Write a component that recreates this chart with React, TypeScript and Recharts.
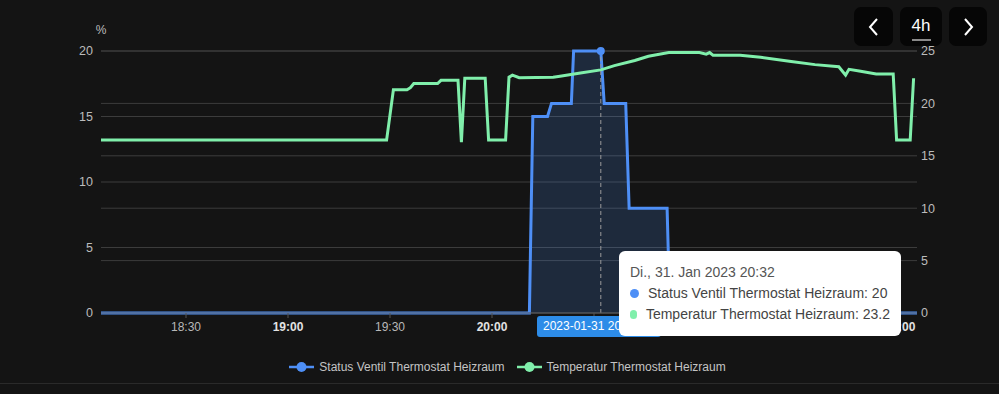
import React from 'react'
import {
    ComposedChart,
    Area,
    Line,
    XAxis,
    YAxis,
    CartesianGrid,
    Tooltip,
    Legend,
    ReferenceLine,
} from 'recharts'

// times are HH:MM:SS on 31 Jan 2023
const statusTimes = [
    '18:05:00', '20:11:00', '20:12:00', '20:16:20', '20:17:30', '20:23:20', '20:24:00',
    '20:32:00', '20:33:00', '20:39:20', '20:40:20', '20:51:30', '20:52:20', '22:05:00',
]
const statusValues = [0, 0, 15, 15, 16, 16, 20, 20, 16, 16, 8, 8, 0, 0]

const tempTimes = [
    '18:05:00', '19:29:00', '19:31:00', '19:35:00', '19:36:00', '19:37:00', '19:44:00',
    '19:45:00', '19:50:00', '19:51:00', '19:52:00', '19:58:00', '19:59:00', '20:04:00',
    '20:05:00', '20:06:00', '20:08:00', '20:18:00', '20:20:00', '20:26:00', '20:32:00',
    '20:36:00', '20:42:00', '20:46:00', '20:52:00', '21:01:00', '21:03:00', '21:04:00',
    '21:05:00', '21:13:00', '21:19:00', '21:28:00', '21:35:00', '21:42:00', '21:44:00',
    '21:45:00', '21:48:00', '21:53:00', '21:58:00', '21:59:00', '22:03:00', '22:04:00',
]
const tempValues = [
    16.5, 16.5, 21.3, 21.3, 21.5, 21.9, 21.9,
    22.2, 22.2, 16.3, 22.4, 22.4, 16.5, 16.5,
    22.5, 22.7, 22.45, 22.5, 22.6, 22.9, 23.2,
    23.6, 24.1, 24.5, 24.85, 24.85, 24.7, 24.85,
    24.6, 24.6, 24.4, 24.0, 23.7, 23.5, 22.7,
    23.25, 23.1, 22.8, 22.8, 16.5, 16.5, 22.4,
]

const xTicks = ['18:30', '19:00', '19:30', '20:00', '20:30', '21:00', '21:30', '22:00']
const leftTicks = [0, 5, 10, 15, 20]
const rightTicks = [0, 5, 10, 15, 20, 25]

const statusName = 'Status Ventil Thermostat Heizraum'
const tempName = 'Temperatur Thermostat Heizraum'
const pointerTime = '20:32:00'
const pointerDate = '2023-01-31'
const pointerTitle = 'Di., 31. Jan 2023 20:32'

const BLUE = '#4e8ff6'
const GREEN = '#80efab'

function toMin(s: string) {
    const p = s.split(':').map(Number)
    return p[0] * 60 + p[1] + (p[2] || 0) / 60
}

function fmtMin(v: number) {
    const h = Math.floor(v / 60)
    const m = Math.round(v - h * 60)
    return `${h}:${m < 10 ? '0' + m : m}`
}

// merge both series into one table keyed by time
const rowMap = new Map<number, any>()
statusTimes.forEach((t, i) => {
    const k = toMin(t)
    rowMap.set(k, { ...(rowMap.get(k) || { t: k }), status: statusValues[i] })
})
tempTimes.forEach((t, i) => {
    const k = toMin(t)
    rowMap.set(k, { ...(rowMap.get(k) || { t: k }), temp: tempValues[i] })
})
const rows = Array.from(rowMap.values()).sort((a, b) => a.t - b.t)
const pointerX = toMin(pointerTime)
const pointerIndex = rows.findIndex((r) => r.t === pointerX)

function TimeTick(props: any) {
    const { x, y, payload } = props
    const full = payload.value % 60 === 0
    return (
        <text
            x={x}
            y={y}
            dy={11}
            textAnchor="middle"
            fontSize={12}
            fontWeight={full ? 700 : 400}
            fill={full ? '#e2e2e2' : '#b8b8b8'}
        >
            {fmtMin(payload.value)}
        </text>
    )
}

// tooltip box plus the axis pointer label that sits under it
function TipBox(props: any) {
    const { active, payload, label } = props
    if (!active) return null
    const get = (k: string) => {
        const p = (payload || []).find((e: any) => e.dataKey === k)
        return p ? p.value : undefined
    }
    const items = [
        { name: statusName, color: BLUE, value: get('status') },
        { name: tempName, color: GREEN, value: get('temp') },
    ]
    return (
        <div style={{ position: 'relative', width: 282 }}>
            <div
                style={{
                    position: 'absolute',
                    left: -82,
                    top: 65,
                    width: 124,
                    height: 21,
                    background: '#2d8ce8',
                    borderRadius: 3,
                    color: '#fff',
                    fontSize: 12,
                    lineHeight: '21px',
                    paddingLeft: 6,
                    boxSizing: 'border-box',
                    whiteSpace: 'nowrap',
                    overflow: 'hidden',
                }}
            >
                {pointerDate + ' ' + fmtMin(label ?? pointerX)}
            </div>
            <div
                style={{
                    position: 'relative',
                    background: '#fff',
                    borderRadius: 6,
                    padding: '11px 11px',
                    width: 282,
                    boxSizing: 'border-box',
                    fontSize: 14,
                    lineHeight: '21px',
                    color: '#444',
                    whiteSpace: 'nowrap',
                }}
            >
                <div style={{ color: '#555' }}>{pointerTitle}</div>
                {items.map((it) => (
                    <div key={it.name} style={{ display: 'flex', alignItems: 'center' }}>
                        <span
                            style={{
                                width: 9,
                                height: 9,
                                borderRadius: 5,
                                background: it.color,
                                marginRight: 9,
                                display: 'inline-block',
                            }}
                        />
                        {it.name}: {it.value}
                    </div>
                ))}
            </div>
        </div>
    )
}

function LegendRow() {
    const items = [
        { name: statusName, color: BLUE },
        { name: tempName, color: GREEN },
    ]
    return (
        <div
            style={{
                height: 20,
                display: 'flex',
                justifyContent: 'center',
                alignItems: 'center',
                paddingLeft: 16,
                fontSize: 12,
                color: '#c4c4c4',
            }}
        >
            {items.map((it, i) => (
                <div
                    key={it.name}
                    style={{ display: 'flex', alignItems: 'center', marginLeft: i ? 12 : 0 }}
                >
                    <svg width={25} height={12} style={{ marginRight: 5 }}>
                        <line x1={0} y1={6} x2={25} y2={6} stroke={it.color} strokeWidth={2.5} />
                        <circle cx={12.5} cy={6} r={5} fill={it.color} />
                    </svg>
                    {it.name}
                </div>
            ))}
        </div>
    )
}

function Chevron(props: { dir: 'l' | 'r' }) {
    const pts = props.dir === 'l' ? '12,4 5,12 12,20' : '6,4 13,12 6,20'
    return (
        <svg width={18} height={24}>
            <polyline points={pts} fill="none" stroke="#fff" strokeWidth={2} />
        </svg>
    )
}

const btn: React.CSSProperties = {
    position: 'absolute',
    top: 7,
    height: 39,
    background: '#060606',
    borderRadius: 7,
    display: 'flex',
    alignItems: 'center',
    justifyContent: 'center',
    color: '#fff',
}

export default function App() {
    return (
        <div
            style={{
                position: 'absolute',
                left: 0,
                top: 0,
                width: 999,
                height: 394,
                background: '#141414',
                fontFamily: '"Liberation Sans", Arial, sans-serif',
                overflow: 'hidden',
            }}
        >
            <ComposedChart
                width={999}
                height={394}
                data={rows}
                margin={{ top: 51, right: 0, bottom: 31, left: 0 }}
            >
                <CartesianGrid yAxisId="left" vertical={false} stroke="#3c3c3c" />
                <CartesianGrid yAxisId="right" vertical={false} stroke="#3c3c3c" />
                <XAxis
                    dataKey="t"
                    type="number"
                    domain={[toMin('18:05'), toMin('22:05')]}
                    ticks={xTicks.map(toMin)}
                    allowDataOverflow
                    height={30}
                    tick={<TimeTick />}
                    tickSize={5}
                    tickMargin={2}
                    stroke="#555"
                />
                <YAxis
                    yAxisId="left"
                    width={101}
                    domain={[0, 20]}
                    ticks={leftTicks}
                    axisLine={false}
                    tickLine={false}
                    tick={{ fill: '#bcbcbc', fontSize: 12.5 }}
                    label={(p: any) => (
                        <text
                            x={p.viewBox.x + p.viewBox.width}
                            y={p.viewBox.y - 17}
                            textAnchor="middle"
                            fontSize={12}
                            fill="#bcbcbc"
                        >
                            %
                        </text>
                    )}
                />
                <YAxis
                    yAxisId="right"
                    orientation="right"
                    width={82}
                    domain={[0, 25]}
                    ticks={rightTicks}
                    axisLine={false}
                    tickLine={false}
                    tickSize={2}
                    tick={{ fill: '#bcbcbc', fontSize: 12.5 }}
                />
                <Area
                    yAxisId="left"
                    type="linear"
                    dataKey="status"
                    name={statusName}
                    stroke={BLUE}
                    strokeWidth={3}
                    fill={BLUE}
                    fillOpacity={0.18}
                    connectNulls
                    dot={false}
                    activeDot={{ r: 3, fill: BLUE, stroke: BLUE }}
                    isAnimationActive={false}
                />
                <Line
                    yAxisId="right"
                    type="linear"
                    dataKey="temp"
                    name={tempName}
                    stroke={GREEN}
                    strokeWidth={3}
                    connectNulls
                    dot={false}
                    activeDot={false}
                    isAnimationActive={false}
                />
                <ReferenceLine
                    yAxisId="left"
                    x={pointerX}
                    stroke="#9a9a9a"
                    strokeDasharray="4 3"
                />
                <Legend
                    content={<LegendRow />}
                    verticalAlign="bottom"
                    wrapperStyle={{ bottom: 17, left: 0, width: 999 }}
                />
                <Tooltip
                    active
                    defaultIndex={pointerIndex}
                    position={{ x: 619, y: 251 }}
                    cursor={false}
                    isAnimationActive={false}
                    content={<TipBox />}
                    wrapperStyle={{ zIndex: 5 }}
                />
            </ComposedChart>
            <div style={{ ...btn, left: 854, width: 39 }}>
                <Chevron dir="l" />
            </div>
            <div style={{ ...btn, left: 900, width: 42, flexDirection: 'column' }}>
                <span style={{ fontSize: 17, lineHeight: '20px', marginTop: 4 }}>4h</span>
                <span style={{ width: 19, height: 2, background: '#8a8a8a', marginTop: 3 }} />
            </div>
            <div style={{ ...btn, left: 949, width: 38 }}>
                <Chevron dir="r" />
            </div>
            <div
                style={{
                    position: 'absolute',
                    left: 0,
                    top: 383,
                    width: 999,
                    height: 1,
                    background: '#2a2a2a',
                }}
            />
        </div>
    )
}
